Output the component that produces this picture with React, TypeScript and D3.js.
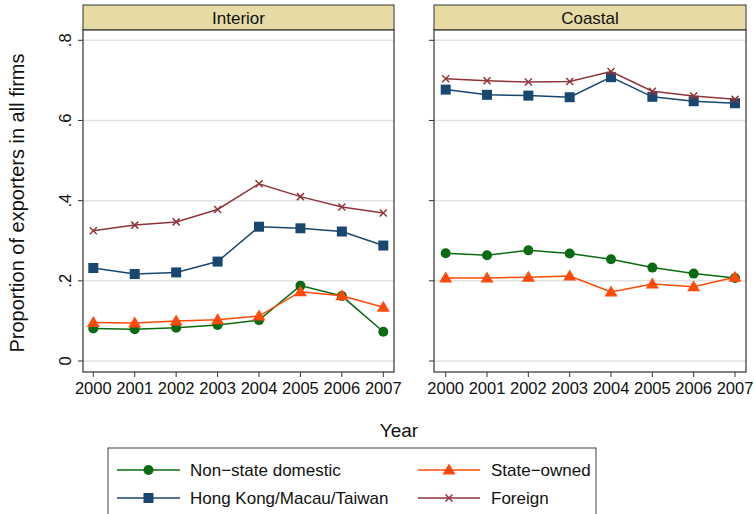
import * as d3 from "d3";

const years = [2000, 2001, 2002, 2003, 2004, 2005, 2006, 2007];
const yTicks = [0, 0.2, 0.4, 0.6, 0.8];
const yTickLabels = ["0", ".2", ".4", ".6", ".8"];
const panels = ["Interior", "Coastal"];

// values
const nonStateInterior = [0.081, 0.079, 0.083, 0.09, 0.102, 0.188, 0.162, 0.073];
const stateInterior = [0.096, 0.095, 0.1, 0.103, 0.112, 0.173, 0.163, 0.134];
const hkmtInterior = [0.232, 0.217, 0.221, 0.248, 0.335, 0.331, 0.323, 0.288];
const foreignInterior = [0.325, 0.339, 0.347, 0.378, 0.442, 0.41, 0.384, 0.369];

const nonStateCoastal = [0.269, 0.264, 0.276, 0.268, 0.254, 0.233, 0.218, 0.207];
const stateCoastal = [0.207, 0.207, 0.209, 0.212, 0.172, 0.192, 0.185, 0.209];
const hkmtCoastal = [0.677, 0.664, 0.662, 0.658, 0.708, 0.659, 0.648, 0.643];
const foreignCoastal = [0.704, 0.699, 0.696, 0.697, 0.722, 0.673, 0.661, 0.653];

const seriesNames = ["Non-state domestic", "State-owned", "Hong Kong/Macau/Taiwan", "Foreign"];

const COLORS = ["#0b6b12", "#ff4a0a", "#1a476f", "#90353b"];
const SHAPES = ["circle", "triangle", "square", "x"];

const panelData = [
  [nonStateInterior, stateInterior, hkmtInterior, foreignInterior],
  [nonStateCoastal, stateCoastal, hkmtCoastal, foreignCoastal],
];

const FONT = "Liberation Sans, Arial, sans-serif";
const PANEL_X = [
  { left: 83, right: 394, first: 93.3, last: 383.3 },
  { left: 434, right: 746, first: 445.7, last: 735 },
];
const TOP = 30;
const BOTTOM = 372;
const STRIP_TOP = 5;

const yScale = d3.scaleLinear().domain([0, 0.8]).range([361, 40.3]);

const Marker = ({ shape, x, y, color }: { shape: string; x: number; y: number; color: string }) => {
  if (shape === "circle") return <circle cx={x} cy={y} r={5} fill={color} />;
  if (shape === "square") return <rect x={x - 5} y={y - 5} width={10} height={10} fill={color} />;
  if (shape === "triangle") {
    const p = d3.path();
    p.moveTo(x, y - 6.5);
    p.lineTo(x + 6.5, y + 4.5);
    p.lineTo(x - 6.5, y + 4.5);
    p.closePath();
    return <path d={p.toString()} fill={color} />;
  }
  return (
    <path
      d={`M${x - 3.5},${y - 3.5}L${x + 3.5},${y + 3.5}M${x - 3.5},${y + 3.5}L${x + 3.5},${y - 3.5}`}
      stroke={color}
      strokeWidth={1.5}
    />
  );
};

const Panel = ({ idx }: { idx: number }) => {
  const px = PANEL_X[idx];
  const xScale = d3.scaleLinear().domain([2000, 2007]).range([px.first, px.last]);
  const line = d3
    .line<number>()
    .x((_, i) => xScale(years[i]))
    .y((d) => yScale(d));
  return (
    <g>
      <rect x={px.left} y={STRIP_TOP} width={px.right - px.left} height={TOP - STRIP_TOP} fill="#e7dba5" stroke="#333" strokeWidth={1} />
      <text x={(px.left + px.right) / 2} y={(STRIP_TOP + TOP) / 2 + 6} textAnchor="middle" fontSize={17} fontFamily={FONT} fill="#111">
        {panels[idx]}
      </text>
      <rect x={px.left} y={TOP} width={px.right - px.left} height={BOTTOM - TOP} fill="#fff" />
      {yTicks.map((t) => (
        <line key={t} x1={px.left} x2={px.right} y1={yScale(t)} y2={yScale(t)} stroke="#e2e2e2" strokeWidth={1.5} />
      ))}
      {panelData[idx].map((vals, s) => (
        <g key={s}>
          <path d={line(vals) ?? ""} fill="none" stroke={COLORS[s]} strokeWidth={1.5} />
          {vals.map((v, i) => (
            <Marker key={i} shape={SHAPES[s]} x={xScale(years[i])} y={yScale(v)} color={COLORS[s]} />
          ))}
        </g>
      ))}
      {/* axes frame */}
      <rect x={px.left} y={TOP} width={px.right - px.left} height={BOTTOM - TOP} fill="none" stroke="#333" strokeWidth={1.2} />
      {yTicks.map((t) => (
        <line key={t} x1={px.left - 5} x2={px.left} y1={yScale(t)} y2={yScale(t)} stroke="#333" strokeWidth={1} />
      ))}
      {idx === 0 &&
        yTicks.map((t, i) => (
          <text
            key={t}
            transform={`translate(${px.left - 12},${yScale(t)}) rotate(-90)`}
            textAnchor="middle"
            fontSize={16.5}
            fontFamily={FONT}
            fill="#111"
          >
            {yTickLabels[i]}
          </text>
        ))}
      {years.map((yr) => (
        <g key={yr}>
          <line x1={xScale(yr)} x2={xScale(yr)} y1={BOTTOM} y2={BOTTOM + 5} stroke="#333" strokeWidth={1} />
          <text x={xScale(yr)} y={BOTTOM + 22} textAnchor="middle" fontSize={16.5} fontFamily={FONT} fill="#111">
            {yr}
          </text>
        </g>
      ))}
    </g>
  );
};

const Legend = () => {
  const cols = [
    { lx1: 117, lx2: 180, tx: 190 },
    { lx1: 418, lx2: 480, tx: 491 },
  ];
  const rows = [470, 498];
  return (
    <g>
      <rect x={108} y={448} width={488} height={90} fill="#fff" stroke="#444" strokeWidth={1} />
      {seriesNames.map((name, s) => {
        const c = cols[s % 2];
        const y = rows[Math.floor(s / 2)];
        const mid = (c.lx1 + c.lx2) / 2;
        return (
          <g key={name}>
            <line x1={c.lx1} x2={c.lx2} y1={y} y2={y} stroke={COLORS[s]} strokeWidth={1.5} />
            <Marker shape={SHAPES[s]} x={mid} y={y} color={COLORS[s]} />
            <text x={c.tx} y={y + 6} fontSize={17} fontFamily={FONT} fill="#111">
              {name.replace("-", "\u2212")}
            </text>
          </g>
        );
      })}
    </g>
  );
};

export default function App() {
  return (
    <svg width={754} height={514} style={{ position: "absolute", left: 0, top: 0, background: "#fff" }}>
      <rect width={754} height={514} fill="#fff" />
      <Panel idx={0} />
      <Panel idx={1} />
      <text
        transform="translate(24,203) rotate(-90)"
        textAnchor="middle"
        fontSize={20}
        fontFamily={FONT}
        fill="#111"
      >
        Proportion of exporters in all firms
      </text>
      <text x={399} y={437} textAnchor="middle" fontSize={19} fontFamily={FONT} fill="#111">
        Year
      </text>
      <Legend />
    </svg>
  );
}
